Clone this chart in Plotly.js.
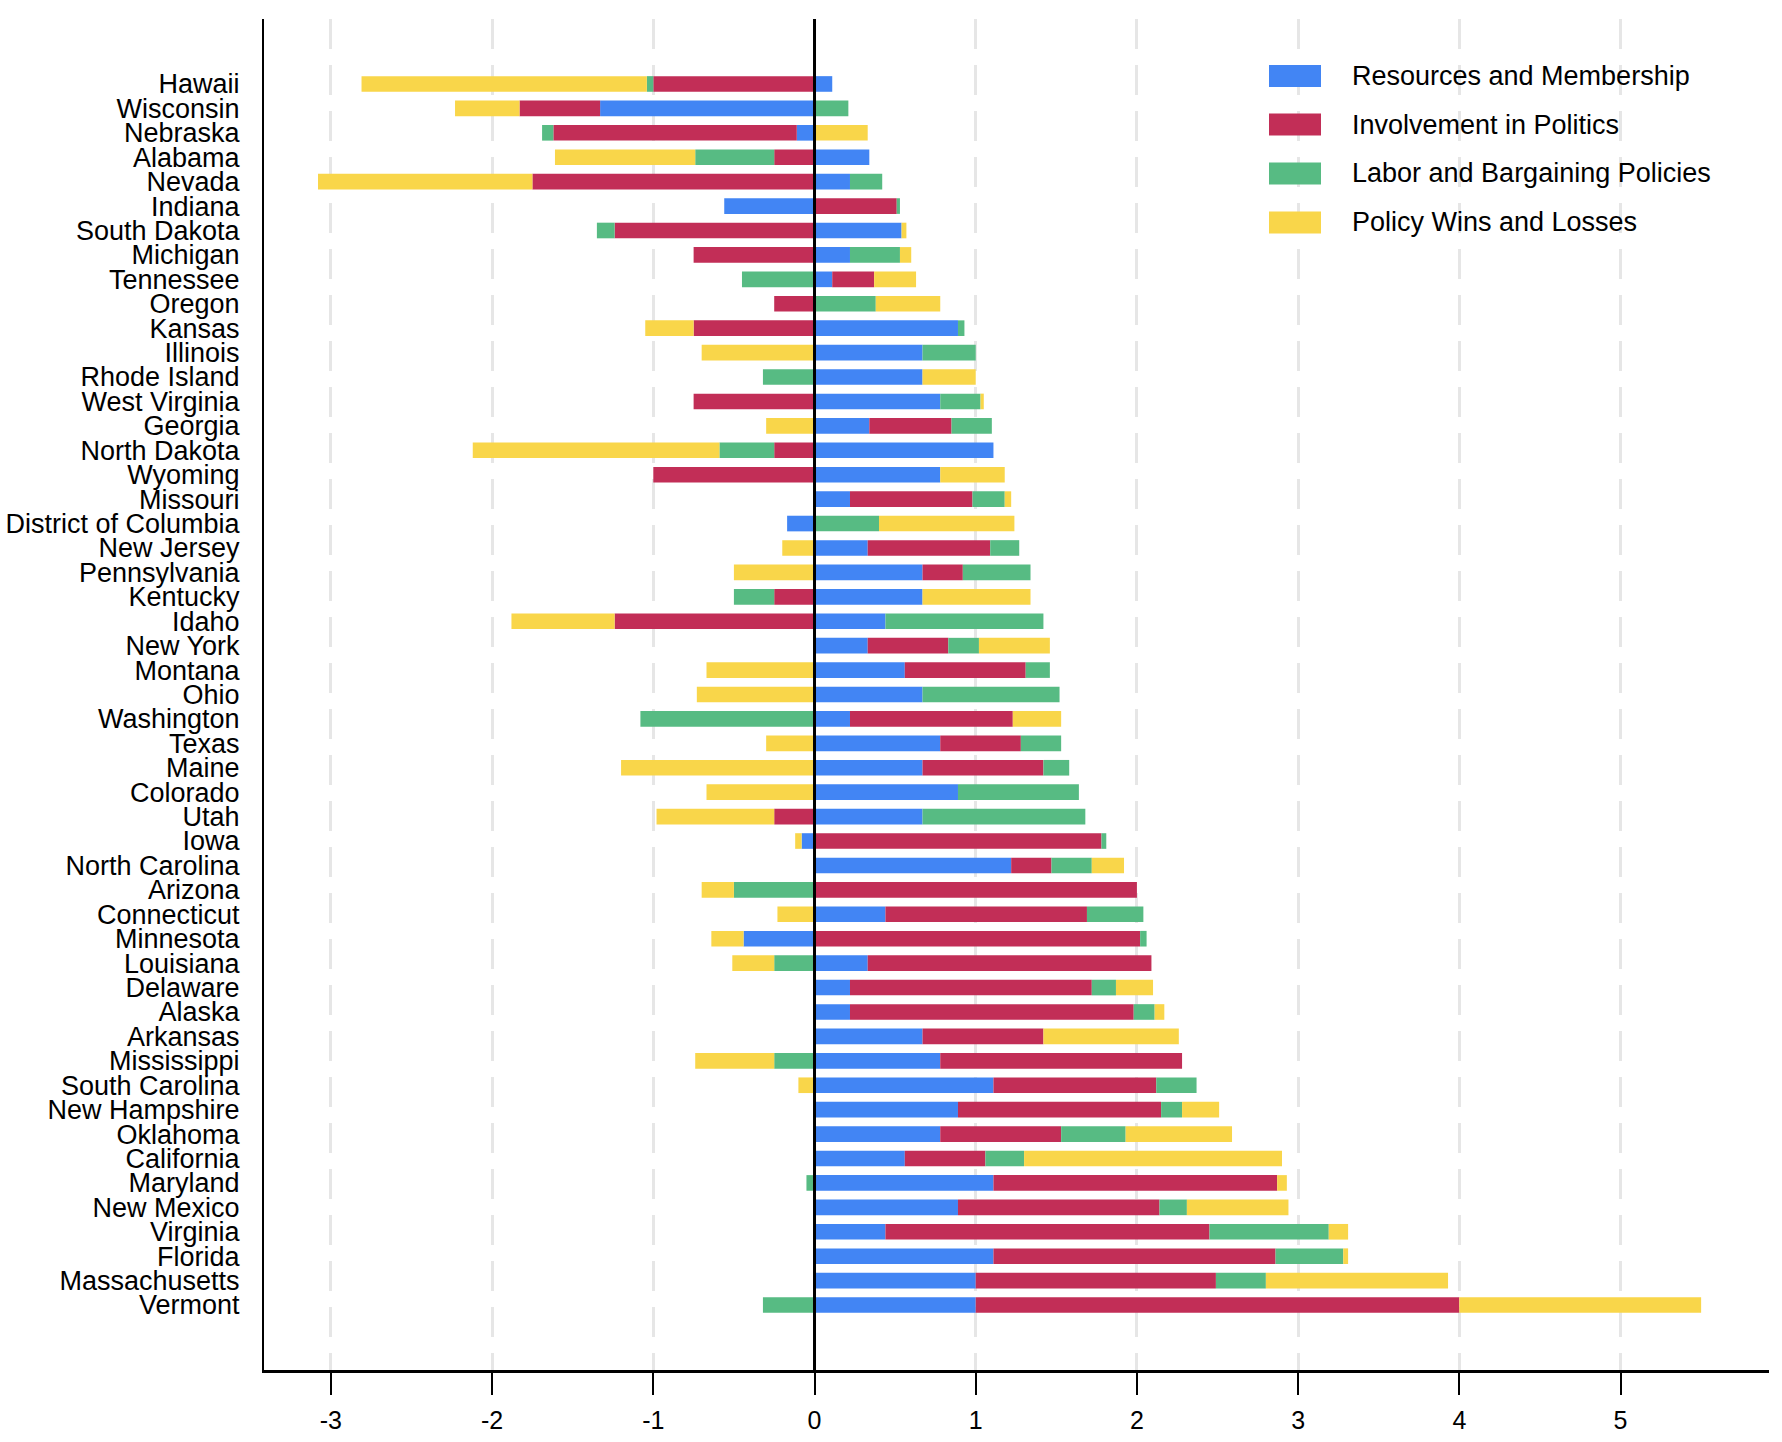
<!DOCTYPE html>
<html>
<head>
<meta charset="utf-8">
<script src="https://cdn.plot.ly/plotly-3.0.1.min.js"></script>
<style>
  html, body { margin: 0; padding: 0; background: #ffffff; }
  #chart { width: 1782px; height: 1442px; }
</style>
</head>
<body>
<div id="chart"></div>
<script>
// States, listed top to bottom as in the chart
const states = ["Hawaii","Wisconsin","Nebraska","Alabama","Nevada","Indiana","South Dakota","Michigan","Tennessee","Oregon",
  "Kansas","Illinois","Rhode Island","West Virginia","Georgia","North Dakota","Wyoming","Missouri","District of Columbia","New Jersey",
  "Pennsylvania","Kentucky","Idaho","New York","Montana","Ohio","Washington","Texas","Maine","Colorado",
  "Utah","Iowa","North Carolina","Arizona","Connecticut","Minnesota","Louisiana","Delaware","Alaska","Arkansas",
  "Mississippi","South Carolina","New Hampshire","Oklahoma","California","Maryland","New Mexico","Virginia","Florida","Massachusetts","Vermont"];

const seriesNames = ["Resources and Membership","Involvement in Politics","Labor and Bargaining Policies","Policy Wins and Losses"];
const seriesColors = ["#4285F4","#C22E57","#57BB83","#F9D64A"];

const resources = [0.11,-1.33,-0.11,0.34,0.22,-0.56,0.54,0.22,0.11,0,
  0.89,0.67,0.67,0.78,0.34,1.11,0.78,0.22,-0.17,0.33,
  0.67,0.67,0.44,0.33,0.56,0.67,0.22,0.78,0.67,0.89,
  0.67,-0.08,1.22,0,0.44,-0.44,0.33,0.22,0.22,0.67,
  0.78,1.11,0.89,0.78,0.56,1.11,0.89,0.44,1.11,1.00,1.00];

const politics = [-1.00,-0.50,-1.51,-0.25,-1.75,0.51,-1.24,-0.75,0.26,-0.25,
  -0.75,0,0,-0.75,0.51,-0.25,-1.00,0.76,0,0.76,
  0.25,-0.25,-1.24,0.50,0.75,0,1.01,0.50,0.75,0,
  -0.25,1.78,0.25,2.00,1.25,2.02,1.76,1.50,1.76,0.75,
  1.50,1.01,1.26,0.75,0.50,1.76,1.25,2.01,1.75,1.49,3.00];

const labor = [-0.04,0.21,-0.07,-0.49,0.20,0.02,-0.11,0.31,-0.45,0.38,
  0.04,0.33,-0.32,0.25,0.25,-0.34,0,0.20,0.40,0.18,
  0.42,-0.25,0.98,0.19,0.15,0.85,-1.08,0.25,0.16,0.75,
  1.01,0.03,0.25,-0.50,0.35,0.04,-0.25,0.15,0.13,0,
  -0.25,0.25,0.13,0.40,0.24,-0.05,0.17,0.74,0.42,0.31,-0.32];

const policy = [-1.77,-0.40,0.33,-0.87,-1.33,0,0.03,0.07,0.26,0.40,
  -0.30,-0.70,0.33,0.02,-0.30,-1.53,0.40,0.04,0.84,-0.20,
  -0.50,0.67,-0.64,0.44,-0.67,-0.73,0.30,-0.30,-1.20,-0.67,
  -0.73,-0.04,0.20,-0.20,-0.23,-0.20,-0.26,0.23,0.06,0.84,
  -0.49,-0.10,0.23,0.66,1.60,0.06,0.63,0.12,0.03,1.13,1.50];

const xTicks = [-3,-2,-1,0,1,2,3,4,5];

const seriesValues = [resources, politics, labor, policy];

const W = 1782, H = 1442;
const M = {l: 264, r: 13, t: 19, b: 72};
const plotW = W - M.l - M.r, plotH = H - M.t - M.b;
const px2x = p => (p - M.l) / plotW;
const px2y = p => (H - M.b - p) / plotH;

const FONT = "Liberation Sans, Arial, Helvetica, sans-serif";

const traces = seriesValues.map((vals, i) => ({
  type: "bar",
  orientation: "h",
  name: seriesNames[i],
  x: vals,
  y: states,
  width: 0.64,
  marker: {color: seriesColors[i], line: {width: 0}},
  showlegend: false,
  hoverinfo: "x+y+name"
}));

// Manual legend (wide swatches)
const shapes = [];
const annotations = [];
const legendRowsPx = [76, 124.5, 173.5, 222.5];
seriesNames.forEach((nm, i) => {
  const c = legendRowsPx[i];
  shapes.push({
    type: "rect", xref: "paper", yref: "paper",
    x0: px2x(1269), x1: px2x(1321), y0: px2y(c + 11), y1: px2y(c - 11),
    fillcolor: seriesColors[i], line: {width: 0}, layer: "above"
  });
  annotations.push({
    xref: "paper", yref: "paper", x: px2x(1350), y: px2y(c),
    xanchor: "left", yanchor: "middle", showarrow: false,
    text: nm, font: {family: FONT, size: 27, color: "#000"}
  });
});

// Black vertical line at zero drawn on top of bars
shapes.push({
  type: "line", xref: "x", yref: "paper", x0: 0, x1: 0, y0: 0, y1: 1,
  line: {color: "#000", width: 3}, layer: "above"
});

const layout = {
  width: W, height: H,
  margin: M,
  paper_bgcolor: "#ffffff",
  plot_bgcolor: "#ffffff",
  barmode: "relative",
  font: {family: FONT, color: "#000"},
  xaxis: {
    range: [-3.415, 5.921],
    tickmode: "array",
    tickvals: xTicks,
    ticktext: xTicks.map(String),
    ticks: "outside",
    ticklen: 22,
    tickwidth: 2,
    tickcolor: "#000",
    ticklabelstandoff: 4,
    tickfont: {family: FONT, size: 25, color: "#000"},
    showline: true,
    linecolor: "#000",
    linewidth: 3,
    showgrid: true,
    gridcolor: "#e6e6e6",
    gridwidth: 3,
    griddash: "30px,16px",
    zeroline: false,
    fixedrange: true
  },
  yaxis: {
    type: "category",
    categoryorder: "array",
    categoryarray: states.slice().reverse(),
    tickmode: "array",
    tickvals: states,
    ticktext: states,
    range: [-2.66, 52.66],
    showline: true,
    linecolor: "#000",
    linewidth: 2,
    ticks: "",
    ticklabelstandoff: 17,
    tickfont: {family: FONT, size: 27, color: "#000"},
    showgrid: false,
    zeroline: false,
    fixedrange: true
  },
  shapes: shapes,
  annotations: annotations
};

Plotly.newPlot("chart", traces, layout, {displayModeBar: false, responsive: false});
</script>
</body>
</html>
